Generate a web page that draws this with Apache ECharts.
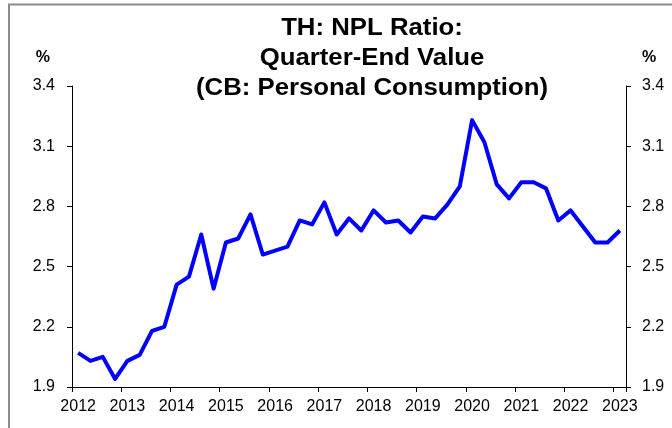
<!DOCTYPE html>
<html>
<head>
<meta charset="utf-8">
<script src="https://cdn.jsdelivr.net/npm/echarts@6/dist/echarts.min.js"></script>
<style>
  html, body { margin: 0; padding: 0; background: #fff; }
  #main { width: 672px; height: 428px; }
</style>
</head>
<body>
<div id="main"></div>
<script>
// years shown on the x axis, one label per Q1
var years = ['2012','2013','2014','2015','2016','2017','2018','2019','2020','2021','2022','2023'];
var quarters = ['Q1','Q2','Q3','Q4'];

// NPL ratio, quarter-end, 2012Q1 .. 2023Q1
var nplRatio = [
  2.07, 2.03, 2.05, 1.94,
  2.03, 2.06, 2.18, 2.20,
  2.41, 2.45, 2.66, 2.39,
  2.62, 2.64, 2.76, 2.56,
  2.58, 2.60, 2.73, 2.71,
  2.82, 2.66, 2.74, 2.68,
  2.78, 2.72, 2.73, 2.67,
  2.75, 2.74, 2.81, 2.90,
  3.23, 3.12, 2.91, 2.84,
  2.92, 2.92, 2.89, 2.73,
  2.78, 2.70, 2.62, 2.62,
  2.68
];

var yMin = 1.9, yMax = 3.4, yStep = 0.3;

var categories = [];
for (var i = 0; i < nplRatio.length; i++) {
  categories.push(years[Math.floor(i / 4)] + ' ' + quarters[i % 4]);
}

var font = 'Liberation Sans, Arial, sans-serif';

var chart = echarts.init(document.getElementById('main'));

// shared y axis look, left and right
function yAxisOf(pos) {
  return {
    type: 'value',
    position: pos,
    min: yMin,
    max: yMax,
    interval: yStep,
    name: '%',
    nameLocation: 'end',
    nameGap: 20,
    nameTextStyle: {
      color: '#000',
      fontFamily: font,
      fontWeight: 'bold',
      fontSize: 16,
      align: pos == 'left' ? 'right' : 'left',
      padding: pos == 'left' ? [0, 22, 0, 0] : [0, 0, 0, 16]
    },
    axisLine: { show: true, lineStyle: { color: '#000', width: 1 } },
    axisTick: { show: true, length: 5, lineStyle: { color: '#000' } },
    splitLine: { show: false },
    axisLabel: {
      color: '#000',
      fontFamily: font,
      fontSize: 16,
      margin: pos == 'left' ? 17 : 16,
      formatter: function (v) { return v.toFixed(1); }
    }
  };
}

var option = {
  animation: false,
  backgroundColor: '#fff',
  grid: { left: 72, right: 46, top: 86, bottom: 41 },
  graphic: [
    {
      type: 'polyline',
      shape: { points: [[9, 428], [9, 4.5], [672, 4.5]] },
      style: { stroke: '#8c8c8c', lineWidth: 2, fill: null }
    },
    {
      type: 'text',
      x: 372,
      y: 14,
      scaleX: 1.12,
      style: {
        text: 'TH: NPL Ratio:\nQuarter-End Value\n(CB: Personal Consumption)',
        fill: '#000',
        font: 'bold 23px ' + font,
        lineHeight: 30,
        textAlign: 'center',
        textVerticalAlign: 'top'
      }
    }
  ],
  xAxis: {
    type: 'category',
    data: categories,
    boundaryGap: true,
    axisLine: { lineStyle: { color: '#000', width: 1 } },
    axisTick: { show: true, interval: 3, length: 5, lineStyle: { color: '#000' } },
    axisLabel: {
      interval: 3,
      color: '#000',
      fontFamily: font,
      fontSize: 16,
      margin: 12,
      formatter: function (v) { return v.slice(0, 4); }
    },
    splitLine: { show: false }
  },
  yAxis: [yAxisOf('left'), yAxisOf('right')],
  series: [
    {
      name: 'NPL Ratio',
      type: 'line',
      data: nplRatio,
      yAxisIndex: 0,
      showSymbol: false,
      symbol: 'none',
      lineStyle: { color: '#0000ff', width: 4, join: 'round' }
    }
  ]
};

chart.setOption(option);
</script>
</body>
</html>
